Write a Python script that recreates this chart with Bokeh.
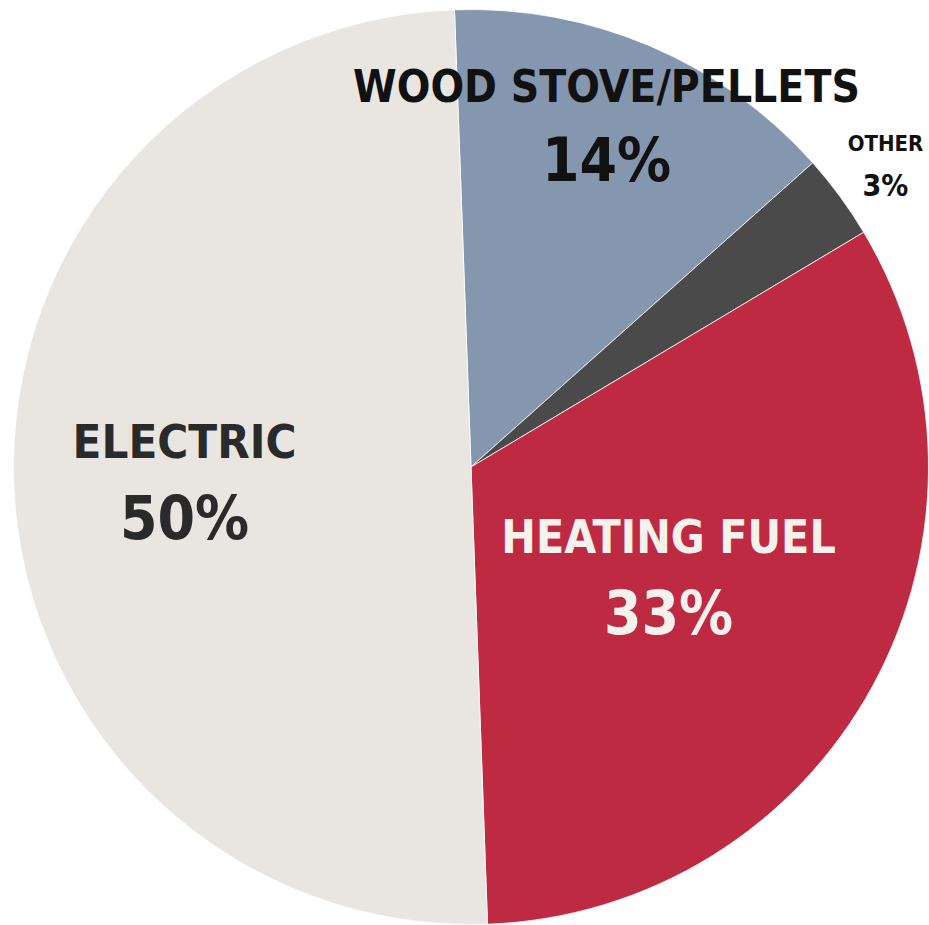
import math
from bokeh.plotting import figure
from bokeh.models import ColumnDataSource, Range1d
from bokeh.core.properties import value
from bokeh.embed import file_html
from bokeh.resources import INLINE

# data (clockwise from the top)
categories = ["WOOD STOVE/PELLETS", "OTHER", "HEATING FUEL", "ELECTRIC"]
shares = [14, 3, 33, 50]
pct_labels = ["14%", "3%", "33%", "50%"]
colors = ["#8497AF", "#4A4A4A", "#BE2A42", "#E9E6E1"]
text_colors = ["#111111", "#111111", "#F5F1EC", "#2A2A2A"]

# layout
W, H = 929, 925
cx, cy = 470.5, 466.5          # pie centre in figure pixels (from top-left)
R = 457.5
start_offset = math.radians(2.07)   # first slice starts slightly left of 12 o'clock

total = float(sum(shares))
starts, ends = [], []
acc = 0.0
for s in shares:
    a0 = math.pi / 2 + start_offset - 2 * math.pi * acc / total
    acc += s
    a1 = math.pi / 2 + start_offset - 2 * math.pi * acc / total
    starts.append(a0)
    ends.append(a1)

src = ColumnDataSource(dict(x=[0] * 4, y=[0] * 4, start=starts, end=ends,
                            color=colors, cat=categories))

p = figure(width=W, height=H, output_backend="svg", toolbar_location=None,
           x_range=Range1d(-cx, W - cx), y_range=Range1d(-(H - cy), cy),
           min_border=0, outline_line_color=None)
p.axis.visible = False
p.grid.visible = False
p.background_fill_color = "white"
p.border_fill_color = "white"

p.wedge(x="x", y="y", radius=R, start_angle="start", end_angle="end",
        direction="clock", fill_color="color", line_color="white",
        line_width=0.8, source=src)

# label anchors (relative to centre, y up)
label_x = [135.5, 414.5, 197.5, -286.5]
name_y = [380.5, 323.5, -69.5, 25.5]
pct_y = [307.5, 281.5, -145.5, -50.5]
name_size = ["44px", "22px", "46px", "47px"]
pct_size = ["60px", "30px", "60px", "60px"]

lab = ColumnDataSource(dict(x=label_x, ny=name_y, py=pct_y, name=categories,
                            pct=pct_labels, tc=text_colors,
                            ns=name_size, ps=pct_size))
font = value("DejaVu Sans Condensed, Roboto, sans-serif")
p.text(x="x", y="ny", text="name", source=lab, text_font=font,
       text_font_style="bold", text_font_size="ns", text_color="tc",
       text_align="center", text_baseline="alphabetic")
p.text(x="x", y="py", text="pct", source=lab, text_font=font,
       text_font_style="bold", text_font_size="ps", text_color="tc",
       text_align="center", text_baseline="alphabetic")

open("out.html", "w").write(file_html(p, INLINE))
